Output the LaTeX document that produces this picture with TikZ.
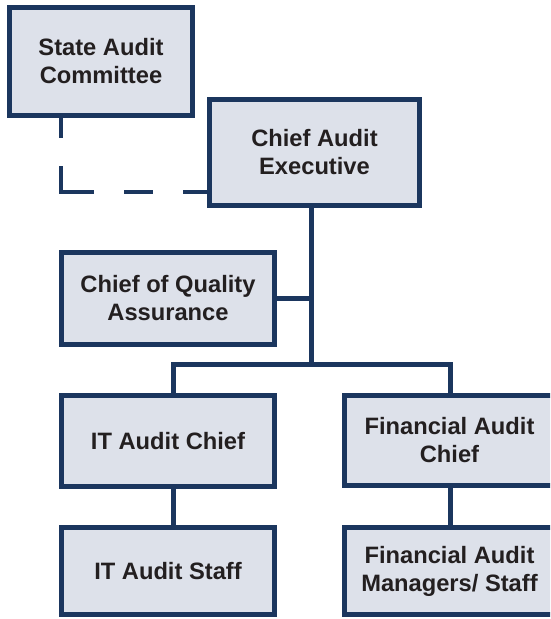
\documentclass[tikz,border=0pt]{standalone}
\usepackage{fontspec}
\setmainfont{Liberation Sans}
\definecolor{navy}{RGB}{27,54,94}
\definecolor{boxfill}{RGB}{221,225,234}
\definecolor{ink}{RGB}{35,31,32}

\begin{document}
\begin{tikzpicture}[x=1pt,y=-1pt,box/.style={draw=navy,line width=5pt,fill=boxfill,align=center,inner sep=0pt,text=ink,font=\fontsize{23.7}{28}\selectfont\bfseries},link/.style={draw=navy,line width=5pt},dline/.style={draw=navy,line width=3.3pt,dash pattern=on 20pt off 28pt on 59pt off 30pt on 29pt off 30pt on 40pt}]
\useasboundingbox (0,0) rectangle (550,619);
\clip (0,0) rectangle (550,619);
\node[box,minimum width=183pt,minimum height=108pt] (a) at (101,61.5) {State Audit\\Committee};
\node[box,minimum width=210pt,minimum height=106pt] (b) at (314.5,152.5) {Chief Audit\\Executive};
\node[box,minimum width=213pt,minimum height=92pt] (c) at (168,298.5) {Chief of Quality\\Assurance};
\node[box,minimum width=213pt,minimum height=91pt] (d) at (168,441) {IT Audit Chief};
\node[box,minimum width=210pt,minimum height=90pt] (e) at (449.5,440.5) {Financial Audit\\Chief};
\node[box,minimum width=213pt,minimum height=87pt] (f) at (168,571) {IT Audit Staff};
\node[box,minimum width=210pt,minimum height=87pt] (g) at (449.5,571) {Financial Audit\\Managers/ Staff};
\coordinate (el) at (61,192);
\coordinate (t) at (311,364);
\coordinate (ld) at (173,364);
\coordinate (rd) at (450,364);
\draw[dline] (a.south -| el)--(el)--(el -| b.west);
\draw[link] (b.south -| t)--(t);
\draw[link] (c.east)--(c.east -| t);
\draw[link] (d.north -| ld)--(ld)--(rd)--(e.north -| rd);
\draw[link] (d.south -| ld)--(f.north -| ld);
\draw[link] (e.south -| rd)--(g.north -| rd);
\end{tikzpicture}
\end{document}
